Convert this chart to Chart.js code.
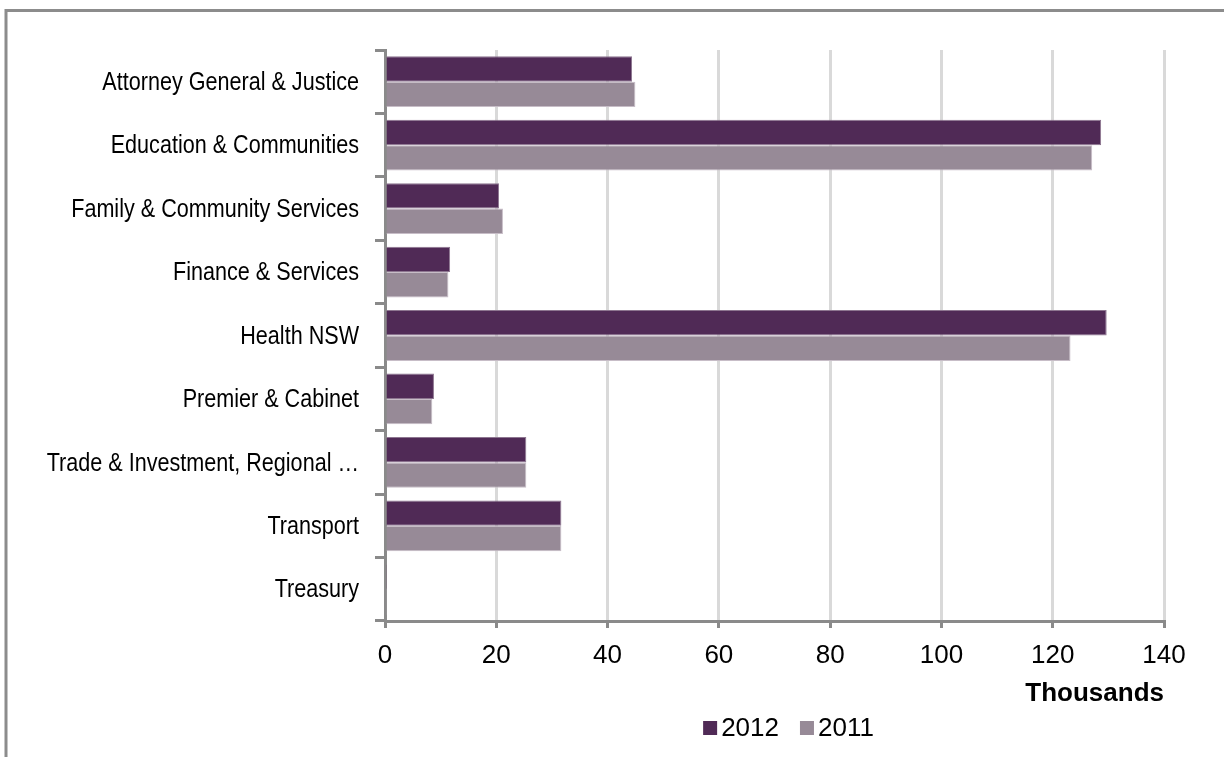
<!DOCTYPE html>
<html>
<head>
<meta charset="utf-8">
<title>Employees by cluster</title>
<script src="https://cdn.jsdelivr.net/npm/chart.js@4/dist/chart.umd.min.js"></script>
<style>
	html, body { margin: 0; padding: 0; background: #fff; }
	#wrap { width: 1224px; height: 757px; position: relative; }
</style>
</head>
<body>
<div id="wrap"><canvas id="clusterChart"></canvas></div>
<script>
"use strict";

// clusters, headcount in thousands
var clusters = [
	"Attorney General & Justice",
	"Education & Communities",
	"Family & Community Services",
	"Finance & Services",
	"Health NSW",
	"Premier & Cabinet",
	"Trade & Investment, Regional \u2026",
	"Transport",
	"Treasury"
];
var staff2012 = [44.4, 128.7, 20.5, 11.7, 129.7, 8.8, 25.4, 31.7, 0.35];
var staff2011 = [45.0, 127.1, 21.2, 11.4, 123.2, 8.5, 25.4, 31.7, 0.35];
var xTicks = [0, 20, 40, 60, 80, 100, 120, 140];

var axisGrey = '#8a8a8a';
var sansFamily = '"Liberation Sans", Arial, sans-serif';

// frame lines round the chart
var framePlugin = {
	id: 'frame',
	beforeDraw: function (chart) {
		var c = chart.ctx;
		c.save();
		c.strokeStyle = '#8c8c8c';
		c.lineWidth = 3;
		c.beginPath();
		c.moveTo(6, 757);
		c.lineTo(6, 10.5);
		c.lineTo(1224, 10.5);
		c.stroke();
		c.restore();
	}
};

// category names in a narrow face (squeezed, no narrow font installed)
var narrowLabels = {
	id: 'narrowLabels',
	afterDraw: function (chart) {
		var c = chart.ctx;
		var yScale = chart.scales.y;
		var squeeze = 0.83;
		var right = yScale.right - 10 - 16;
		c.save();
		c.font = '26px ' + sansFamily;
		c.fillStyle = '#000';
		c.textAlign = 'right';
		c.textBaseline = 'middle';
		c.scale(squeeze, 1);
		chart.data.labels.forEach(function (lbl, i) {
			c.fillText(lbl, right / squeeze, yScale.getPixelForTick(i) + 1);
		});
		c.restore();
	}
};

// legend row under the axis title
var legendPlugin = {
	id: 'bottomLegend',
	afterDraw: function (chart) {
		var c = chart.ctx;
		var sets = chart.data.datasets;
		var box = 14, gap = 4, spacing = 21;
		c.save();
		c.font = '26px ' + sansFamily;
		c.textBaseline = 'middle';
		var total = 0;
		sets.forEach(function (ds, i) {
			total += box + gap + c.measureText(ds.label).width;
			if (i < sets.length - 1) total += spacing;
		});
		var area = chart.chartArea;
		var x = (area.left + area.right) / 2 + 14 - total / 2;
		var y = 728;
		sets.forEach(function (ds) {
			c.fillStyle = ds.backgroundColor;
			c.fillRect(x, y - box / 2, box, box);
			x += box + gap;
			c.fillStyle = '#000';
			c.fillText(ds.label, x, y + 1);
			x += c.measureText(ds.label).width + spacing;
		});
		c.restore();
	}
};

var ctx = document.getElementById('clusterChart');
var data = {
	labels: clusters,
	datasets: [{
		label: '2012',
		data: staff2012,
		backgroundColor: '#502a56',
		borderColor: '#8d7690',
		borderWidth: 1,
		categoryPercentage: 0.8,
		barPercentage: 1.0
	}, {
		label: '2011',
		data: staff2011,
		backgroundColor: '#978a97',
		borderColor: '#c7bdc7',
		borderWidth: 1,
		categoryPercentage: 0.8,
		barPercentage: 1.0
	}]
};

var config = {
	type: 'bar',
	data: data,
	plugins: [framePlugin, narrowLabels, legendPlugin],
	options: {
		indexAxis: 'y',
		responsive: true,
		maintainAspectRatio: false,
		animation: false,
		layout: {
			padding: { top: 50, right: 60, bottom: 44, left: 0 }
		},
		plugins: {
			legend: { display: false },
			tooltip: { enabled: false }
		},
		scales: {
			x: {
				type: 'linear',
				min: 0,
				max: 140,
				afterBuildTicks: function (scale) {
					scale.ticks = xTicks.map(function (v) { return { value: v }; });
				},
				afterFit: function (scale) {
					scale.height = 92;
				},
				grid: {
					color: '#d9d9d9',
					lineWidth: 3,
					tickColor: axisGrey,
					tickLength: 7
				},
				border: { color: axisGrey, width: 3 },
				ticks: {
					color: '#000',
					padding: 12,
					font: { family: sansFamily, size: 26 }
				},
				title: {
					display: true,
					text: 'Thousands',
					align: 'end',
					color: '#000',
					font: { family: sansFamily, size: 26, weight: 'bold' }
				}
			},
			y: {
				type: 'category',
				offset: true,
				afterFit: function (scale) {
					scale.width = 385;
				},
				grid: {
					offset: true,
					drawOnChartArea: false,
					drawTicks: true,
					tickLength: 10,
					tickColor: axisGrey,
					lineWidth: 3
				},
				border: { color: axisGrey, width: 3 },
				ticks: {
					display: false,
					autoSkip: false
				}
			}
		}
	}
};

var clusterChart = new Chart(ctx, config);
</script>
</body>
</html>
